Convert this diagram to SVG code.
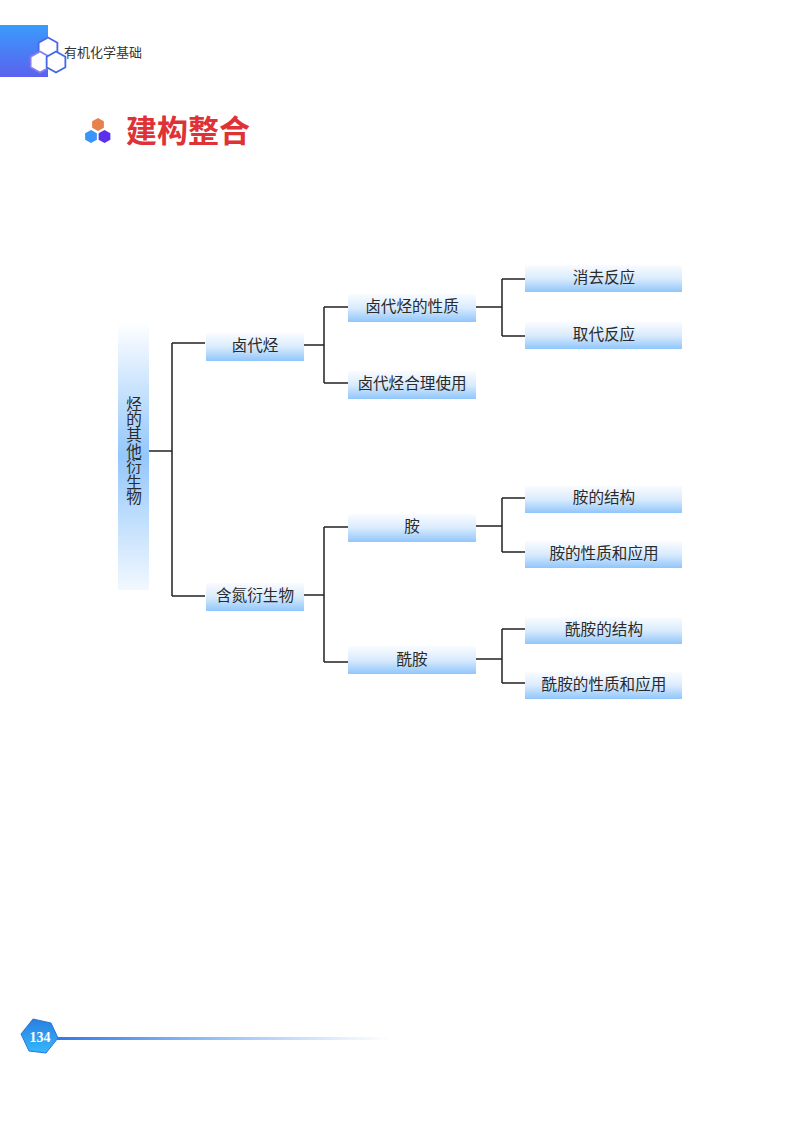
<svg xmlns="http://www.w3.org/2000/svg" width="800" height="1122" viewBox="0 0 800 1122">
<defs>
<linearGradient id="g" x1="0" y1="0" x2="0" y2="1"><stop offset="0" stop-color="#fafcff"/><stop offset="0.5" stop-color="#d9ebfd"/><stop offset="1" stop-color="#90c6fb"/></linearGradient>
<linearGradient id="gv" x1="0" y1="0" x2="0" y2="1"><stop offset="0" stop-color="#ffffff"/><stop offset="0.5" stop-color="#93c7fb"/><stop offset="1" stop-color="#f2f8ff"/></linearGradient>
<linearGradient id="hd" x1="0" y1="0" x2="0" y2="1"><stop offset="0" stop-color="#3a9bfd"/><stop offset="1" stop-color="#5a62ee"/></linearGradient>
<linearGradient id="pg" x1="0" y1="0" x2="0" y2="1"><stop offset="0" stop-color="#2a7ee0"/><stop offset="1" stop-color="#35b8fb"/></linearGradient>
<linearGradient id="bar" x1="0" y1="0" x2="1" y2="0"><stop offset="0" stop-color="#2f78ee"/><stop offset="0.45" stop-color="#90bdf6"/><stop offset="0.85" stop-color="#e4eefc"/><stop offset="1" stop-color="#ffffff"/></linearGradient>
<polygon id="hex" points="0,-14 12.5,-7 12.5,7 0,14 -12.5,7 -12.5,-7"/>
</defs>
<style>
.n{fill:url(#g)}
.t{font-family:"Noto Sans CJK SC","Liberation Sans",sans-serif;font-size:15.6px;fill:#2a2a2a;text-anchor:middle}
.c{fill:none;stroke:#222222;stroke-width:1.5}
</style>
<rect width="800" height="1122" fill="#ffffff"/>
<g id="header">
<rect x="0" y="25" width="48" height="52" fill="url(#hd)"/>
<use href="#hex" transform="translate(48,48) scale(.75)" fill="#ffffff" stroke="#4a68ea" stroke-width="2.4"/>
<use href="#hex" transform="translate(40,62) scale(.75)" fill="#ffffff" stroke="#8a7cf0" stroke-width="2.4"/>
<use href="#hex" transform="translate(56,62) scale(.75)" fill="#ffffff" stroke="#3f68e8" stroke-width="2.4"/>
<text x="64" y="57" font-family="'Noto Sans CJK SC',sans-serif" font-size="13px" fill="#333333">有机化学基础</text>
</g>
<g id="title">
<use href="#hex" transform="translate(98,124.5) scale(.47)" fill="#e8804a"/>
<use href="#hex" transform="translate(91,136.5) scale(.47)" fill="#3a95f8"/>
<use href="#hex" transform="translate(104.5,136.5) scale(.47)" fill="#5a30ee"/>
<text x="126" y="142" font-family="'Noto Sans CJK SC',sans-serif" font-size="31px" font-weight="700" fill="#df3236">建构整合</text>
</g>
<g id="connectors">
<path class="c" d="M149 451H172M172 343V596M172 343H205M172 596H205"/>
<path class="c" d="M304 345H324M324 307V383M324 307H348M324 383H348"/>
<path class="c" d="M476 307H502M502 279V336M502 279H525M502 336H525"/>
<path class="c" d="M476 526H502M502 498V552M502 498H525M502 552H525"/>
<path class="c" d="M304 595H324M324 527V662M324 527H348M324 662H348"/>
<path class="c" d="M476 659H502M502 629V683M502 629H525M502 683H525"/>
</g>
<g id="root"><rect x="118" y="322" width="31" height="268" fill="url(#gv)"/>
<text x="134" y="396" font-family="'Noto Sans CJK SC',sans-serif" font-size="15.6px" fill="#2a2a2a" writing-mode="vertical-rl">烃的其他衍生物</text></g>
<g id="n1"><rect class="n" x="206" y="333" width="98" height="28"/><text class="t" x="255" y="351">卤代烃</text></g>
<g id="n2"><rect class="n" x="206" y="583" width="98" height="28"/><text class="t" x="255" y="601">含氮衍生物</text></g>
<g id="n3"><rect class="n" x="348" y="294" width="128" height="28"/><text class="t" x="412" y="312">卤代烃的性质</text></g>
<g id="n4"><rect class="n" x="348" y="371" width="128" height="28"/><text class="t" x="412" y="389">卤代烃合理使用</text></g>
<g id="n5"><rect class="n" x="348" y="514" width="128" height="28"/><text class="t" x="412" y="532">胺</text></g>
<g id="n6"><rect class="n" x="348" y="646" width="128" height="28"/><text class="t" x="412" y="665">酰胺</text></g>
<g id="n7"><rect class="n" x="525" y="265" width="157" height="27"/><text class="t" x="604" y="283">消去反应</text></g>
<g id="n8"><rect class="n" x="525" y="322" width="157" height="27"/><text class="t" x="604" y="340">取代反应</text></g>
<g id="n9"><rect class="n" x="525" y="486" width="157" height="27"/><text class="t" x="604" y="503">胺的结构</text></g>
<g id="n10"><rect class="n" x="525" y="541" width="157" height="27"/><text class="t" x="604" y="559">胺的性质和应用</text></g>
<g id="n11"><rect class="n" x="525" y="617" width="157" height="27"/><text class="t" x="604" y="635">酰胺的结构</text></g>
<g id="n12"><rect class="n" x="525" y="672" width="157" height="27"/><text class="t" x="604" y="690">酰胺的性质和应用</text></g>
<g id="footer">
<rect x="57" y="1037" width="333" height="3" fill="url(#bar)"/>
<polygon points="33,1019 51,1023 58,1038 46,1053 29,1051 21,1034" fill="url(#pg)" stroke="#2a75d8"/>
<text x="40" y="1042" font-family="'Liberation Serif',serif" font-size="14px" font-weight="700" fill="#ffffff" text-anchor="middle">134</text>
</g>
</svg>
